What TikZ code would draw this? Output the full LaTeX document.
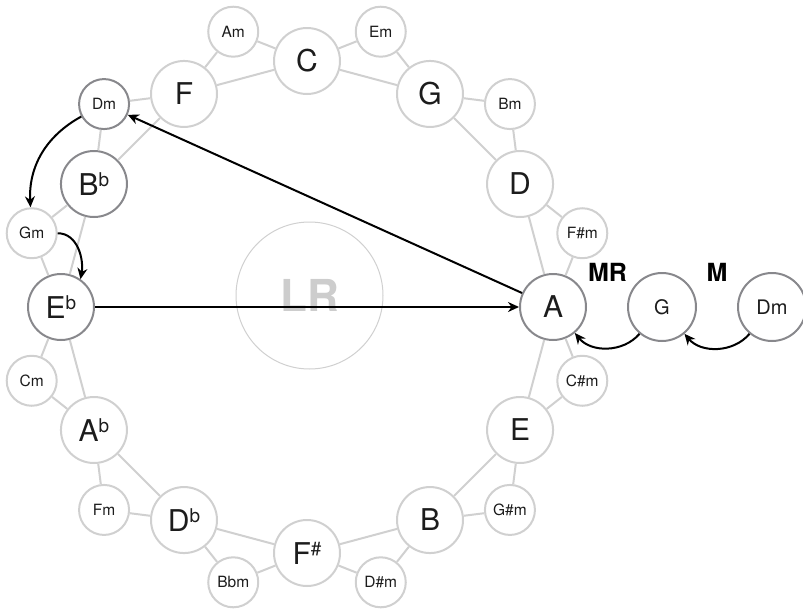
\documentclass[tikz,border=0pt]{standalone}
\usepackage{fontspec}
\setmainfont{TeX Gyre Heros}
\usepackage{tikz}
\usetikzlibrary{arrows.meta, positioning, calc}
\definecolor{ringgray}{RGB}{208,208,208}
\definecolor{hotgray}{RGB}{136,136,140}
\definecolor{inkgray}{RGB}{28,28,28}
\definecolor{lrgray}{RGB}{205,205,205}
\newcommand{\accsup}[1]{\raisebox{9pt}{\fontsize{19}{19}\selectfont #1}}

\begin{document}
\begin{tikzpicture}[x=1pt, y=1pt,
    major/.style={circle, draw=ringgray, line width=2pt, minimum size=66pt, inner sep=0pt, text=inkgray, font=\fontsize{30}{30}\selectfont},
    minor/.style={circle, draw=ringgray, line width=2pt, minimum size=50pt, inner sep=0pt, text=inkgray, font=\fontsize{15.5}{16}\selectfont},
    hot/.style={draw=hotgray},
    side/.style={circle, draw=hotgray, line width=2pt, minimum size=68pt, inner sep=0pt, text=inkgray, font=\fontsize{20}{20}\selectfont},
    link/.style={ringgray, line width=2pt},
    move/.style={-{Stealth[length=11pt, width=10pt]}, line width=2pt, black},
    tag/.style={text=black, font=\bfseries\fontsize{25}{25}\selectfont}]

    \useasboundingbox (0,0) rectangle (803,-608);

    % center circle
    \node[circle, draw=ringgray, line width=1pt, minimum size=147pt, text=lrgray, font=\bfseries\fontsize{44}{44}\selectfont] (LR) at (309.5,-295.5) {LR};

    \begin{scope}[shift={(307,-307)}]
        % major chords, one fifth apart
        \node[major] (C) at (90:246) {C};
        \node[major] (G) at (60:246) {G};
        \node[major] (D) at (30:246) {D};
        \node[major, hot] (A) at (0:246) {A};
        \node[major] (E) at (-30:246) {E};
        \node[major] (B) at (-60:246) {B};
        \node[major] (Fs) at (-90:246) {F\accsup{\#}};
        \node[major] (Db) at (-120:246) {D\accsup{b}};
        \node[major] (Ab) at (-150:246) {A\accsup{b}};
        \node[major, hot] (Eb) at (180:246) {E\accsup{b}};
        \node[major, hot] (Bb) at (150:246) {B\accsup{b}};
        \node[major] (F) at (120:246) {F};

        % relative minors
        \node[minor] (Am) at (105:285) {Am};
        \node[minor] (Em) at (75:285) {Em};
        \node[minor] (Bm) at (45:287) {Bm};
        \node[minor] (Fsm) at (15:285) {F\#m};
        \node[minor] (Csm) at (-15:285) {C\#m};
        \node[minor] (Gsm) at (-45:287) {G\#m};
        \node[minor] (Dsm) at (-75:285) {D\#m};
        \node[minor] (Bbm) at (-105:285) {Bbm};
        \node[minor] (Fm) at (-135:287) {Fm};
        \node[minor] (Cm) at (-165:285) {Cm};
        \node[minor] (Gm) at (165:285) {Gm};
        \node[minor, hot] (Dm) at (135:287) {Dm};
    \end{scope}

    \node[side] (Gr) [right=40pt of A] {G};
    \node[side] (Dmr) [right=40pt of Gr] {Dm};
    \node[tag] (MR) at ($(A)!0.5!(Gr)+(0,35)$) {MR};
    \node[tag] (M) at ($(Gr)!0.5!(Dmr)+(0,35)$) {M};

    % ring of majors
    \draw[link] (C) -- (G) (G) -- (D) (D) -- (A) (A) -- (E) (E) -- (B) (B) -- (Fs);
    \draw[link] (Fs) -- (Db) (Db) -- (Ab) (Ab) -- (Eb) (Eb) -- (Bb) (Bb) -- (F) (F) -- (C);
    % minors to their neighbours
    \draw[link] (Am) -- (F) (Am) -- (C) (Em) -- (C) (Em) -- (G) (Bm) -- (G) (Bm) -- (D);
    \draw[link] (Fsm) -- (D) (Fsm) -- (A) (Csm) -- (A) (Csm) -- (E) (Gsm) -- (E) (Gsm) -- (B);
    \draw[link] (Dsm) -- (B) (Dsm) -- (Fs) (Bbm) -- (Fs) (Bbm) -- (Db) (Fm) -- (Db) (Fm) -- (Ab);
    \draw[link] (Cm) -- (Ab) (Cm) -- (Eb) (Gm) -- (Eb) (Gm) -- (Bb) (Dm) -- (Bb) (Dm) -- (F);

    % moves
    \draw[move] (A) -- (Dm);
    \draw[move] (Eb) -- (A);
    \draw[move] (Dm) to[bend right=32] (Gm);
    \draw[move] (Gm.east) to[out=0, in=80] (Eb.55);
    \draw[move] (Gr) to[bend left=50] (A);
    \draw[move] (Dmr) to[bend left=50] (Gr);
\end{tikzpicture}
\end{document}
